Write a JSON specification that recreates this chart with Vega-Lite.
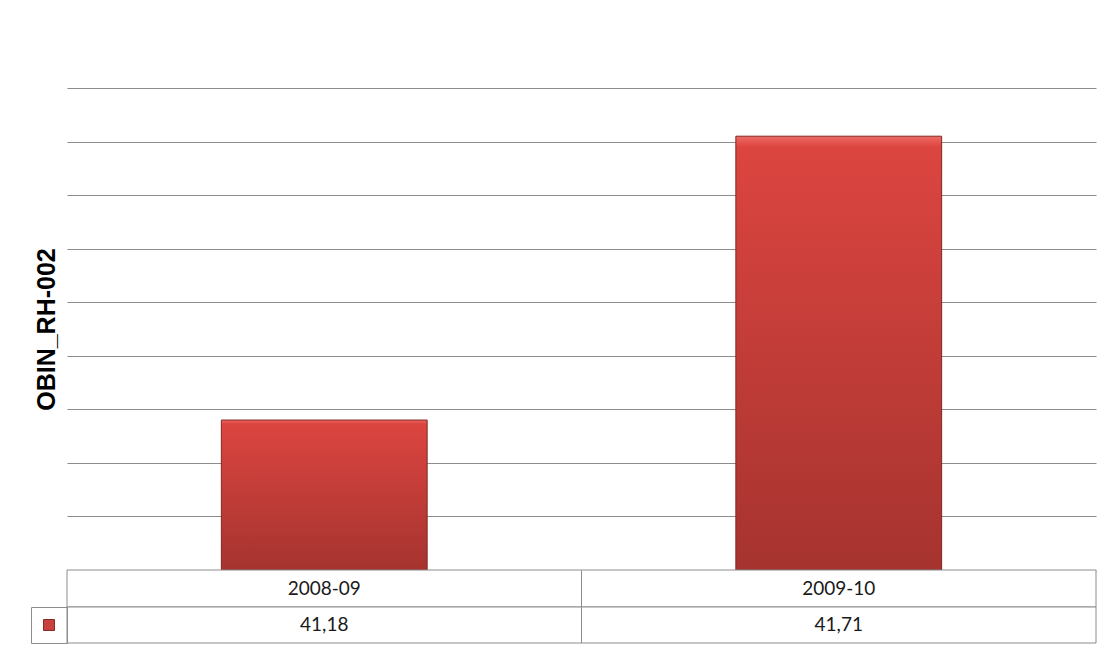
{
  "$schema": "https://vega.github.io/schema/vega-lite/v6.json",
  "background": "white",
  "padding": {"left": 30, "top": 88, "right": 24, "bottom": 12},
  "spacing": 0,
  "bounds": "flush",
  "config": {"view": {"stroke": null}, "font": "Lato"},
  "resolve": {"legend": {"color": "independent"}},
  "datasets": {
    "rows": [
      {"period": "2008-09", "value": 41.18, "label": "41,18"},
      {"period": "2009-10", "value": 41.71, "label": "41,71"}
    ]
  },
  "vconcat": [
    {
      "width": 1029,
      "height": 482,
      "data": {"name": "rows"},
      "mark": {
        "type": "bar",
        "fill": {
          "gradient": "linear", "x1": 0, "y1": 0, "x2": 0, "y2": 1,
          "stops": [
            {"offset": 0, "color": "#ee6a64"},
            {"offset": 0.025, "color": "#dc4540"},
            {"offset": 1, "color": "#a6332f"}
          ]
        },
        "stroke": "#7f2724",
        "strokeWidth": 1
      },
      "encoding": {
        "x": {
          "field": "period", "type": "nominal",
          "scale": {"paddingInner": 0.6, "paddingOuter": 0.3},
          "axis": null
        },
        "y": {
          "field": "value", "type": "quantitative",
          "scale": {"domain": [40.9, 41.8], "zero": false, "nice": false},
          "axis": {
            "title": "OBIN_RH-002",
            "values": [40.9, 41.0, 41.1, 41.2, 41.3, 41.4, 41.5, 41.6, 41.7, 41.8],
            "labels": false, "ticks": false, "domain": false,
            "grid": true, "gridColor": "#8c8c8c", "gridWidth": 1,
            "titleFont": "Liberation Sans", "titleFontSize": 25, "titleFontWeight": "bold",
            "titleColor": "#000000", "titlePadding": 8
          }
        },
        "y2": {"datum": 40.9}
      }
    },
    {
      "width": 1029,
      "height": 37,
      "data": {"name": "rows"},
      "encoding": {
        "x": {
          "field": "period", "type": "nominal",
          "scale": {"paddingInner": 0, "paddingOuter": 0},
          "axis": null
        }
      },
      "layer": [
        {"mark": {"type": "rect", "fill": "white", "stroke": "#8c8c8c", "strokeWidth": 1}},
        {"mark": {"type": "text", "fontSize": 19, "color": "#1a1a1a"}, "encoding": {"text": {"field": "period"}}}
      ]
    },
    {
      "width": 1029,
      "height": 36,
      "data": {"name": "rows"},
      "encoding": {
        "x": {
          "field": "period", "type": "nominal",
          "scale": {"paddingInner": 0, "paddingOuter": 0},
          "axis": null
        }
      },
      "layer": [
        {"mark": {"type": "rect", "fill": "white", "stroke": "#8c8c8c", "strokeWidth": 1}},
        {"mark": {"type": "text", "fontSize": 19, "color": "#1a1a1a"}, "encoding": {"text": {"field": "label"}}},
        {
          "mark": {"type": "square", "opacity": 0},
          "encoding": {
            "color": {
              "datum": "OBIN_RH-002", "type": "nominal",
              "scale": {"range": ["#c8413c"]},
              "legend": {
                "orient": "left", "offset": 0, "title": null,
                "symbolType": "square", "symbolSize": 121, "symbolOpacity": 1,
                "symbolFillColor": "#c8413c", "symbolStrokeColor": "#8a2b28", "symbolStrokeWidth": 1,
                "labelExpr": "''", "labelOffset": 0, "labelFontSize": 22,
                "padding": 7, "strokeColor": "#8c8c8c", "cornerRadius": 0
              }
            }
          }
        }
      ]
    }
  ]
}
